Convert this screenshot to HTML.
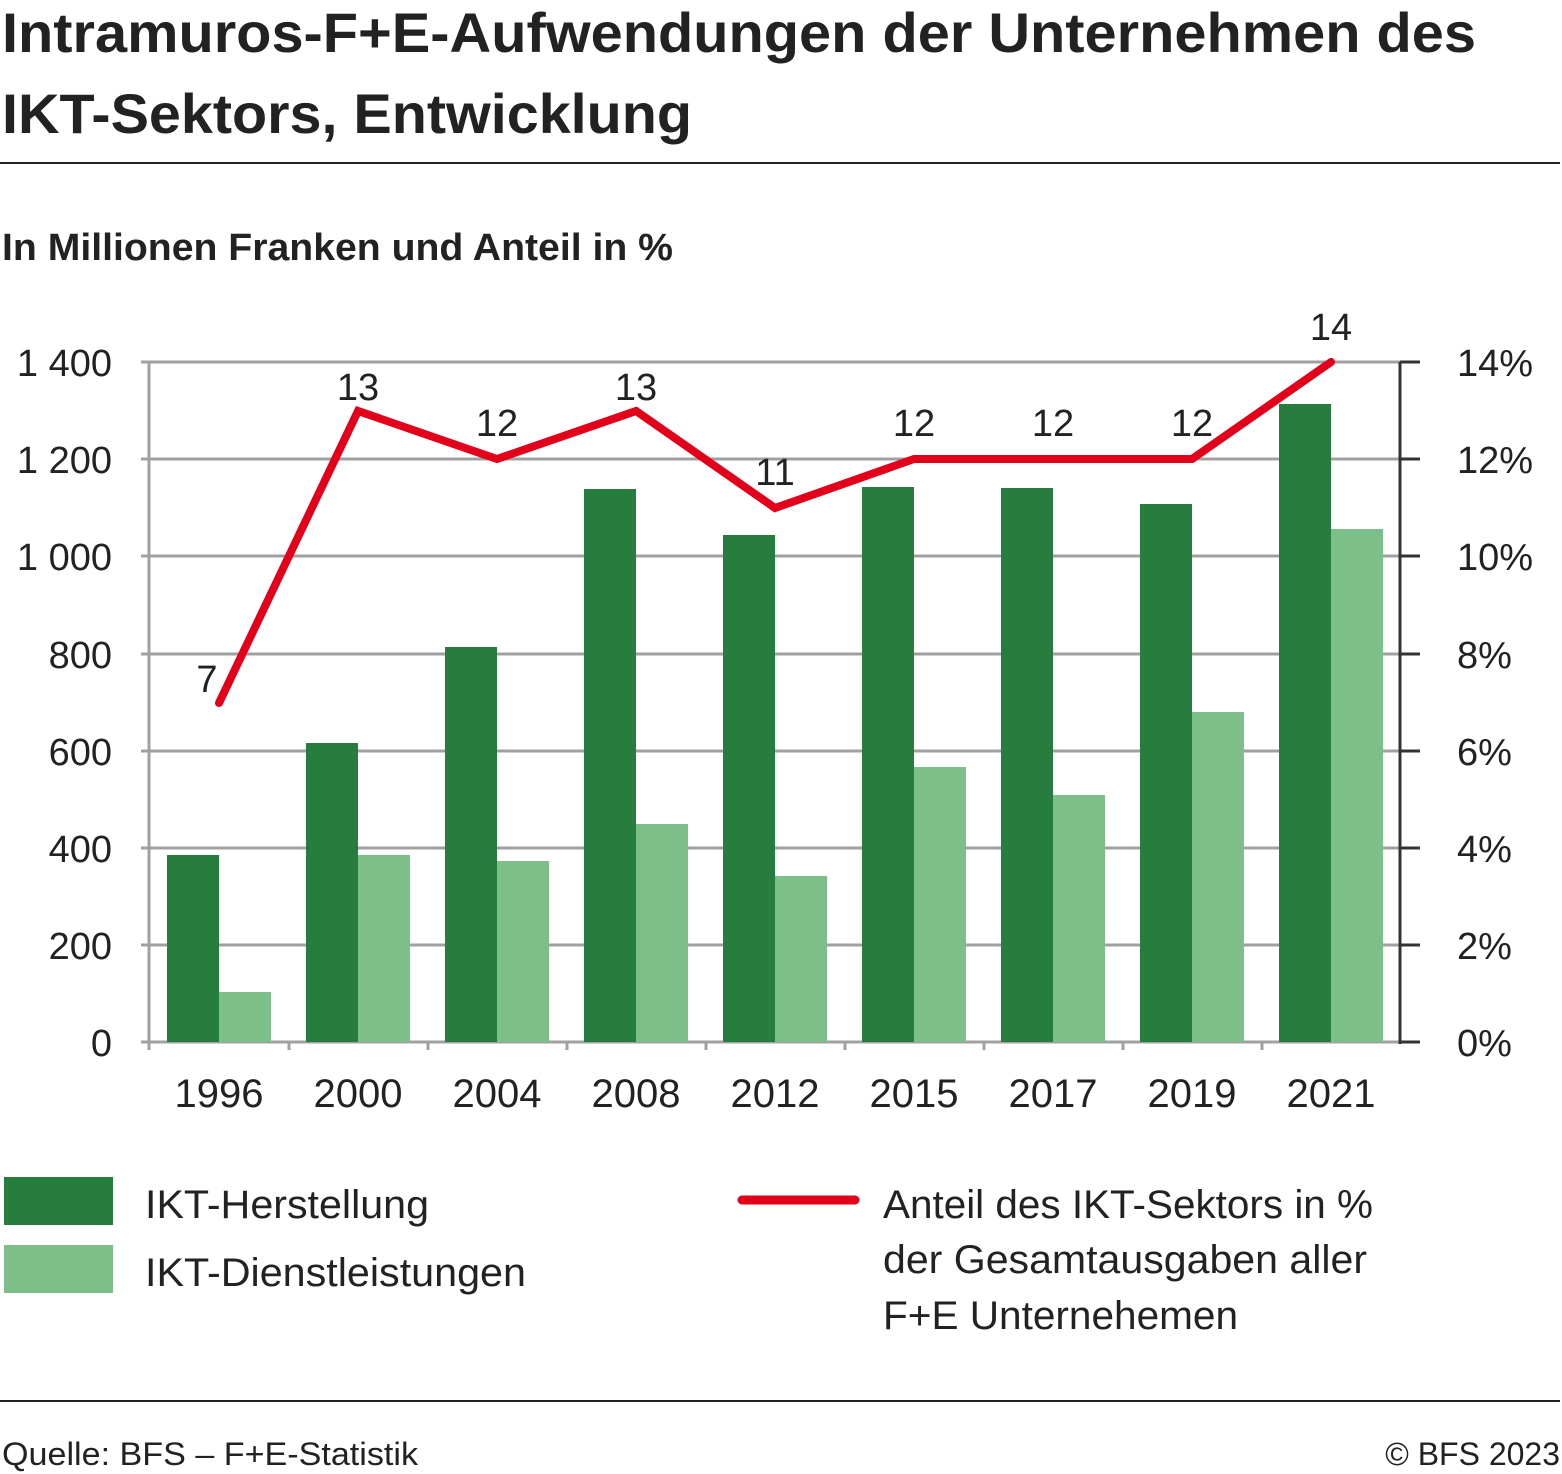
<!DOCTYPE html>
<html><head><meta charset="utf-8"><style>
html,body{margin:0;padding:0;background:#fff;}
svg{display:block;font-family:"Liberation Sans",sans-serif;}
</style></head><body>
<svg width="1562" height="1474" viewBox="0 0 1562 1474" xmlns="http://www.w3.org/2000/svg">
<text x="2" y="52" font-size="56" font-weight="bold" fill="#222" textLength="1474" lengthAdjust="spacingAndGlyphs">Intramuros-F+E-Aufwendungen der Unternehmen des</text>
<text x="2" y="133" font-size="56" font-weight="bold" fill="#222" textLength="690" lengthAdjust="spacingAndGlyphs">IKT-Sektors, Entwicklung</text>
<rect x="0" y="162" width="1560" height="2" fill="#222"/>
<text x="2" y="260" font-size="38" font-weight="bold" fill="#222" textLength="671" lengthAdjust="spacingAndGlyphs">In Millionen Franken und Anteil in %</text>
<g stroke="#a0a0a0" stroke-width="3">
<line x1="141" y1="362" x2="1400" y2="362"/>
<line x1="141" y1="459" x2="1400" y2="459"/>
<line x1="141" y1="556" x2="1400" y2="556"/>
<line x1="141" y1="654" x2="1400" y2="654"/>
<line x1="141" y1="751" x2="1400" y2="751"/>
<line x1="141" y1="848" x2="1400" y2="848"/>
<line x1="141" y1="945" x2="1400" y2="945"/>
<line x1="149" y1="362" x2="149" y2="1050"/>
<line x1="141" y1="1042" x2="1400" y2="1042"/>
<line x1="289" y1="1042" x2="289" y2="1050"/>
<line x1="428" y1="1042" x2="428" y2="1050"/>
<line x1="567" y1="1042" x2="567" y2="1050"/>
<line x1="706" y1="1042" x2="706" y2="1050"/>
<line x1="845" y1="1042" x2="845" y2="1050"/>
<line x1="984" y1="1042" x2="984" y2="1050"/>
<line x1="1123" y1="1042" x2="1123" y2="1050"/>
<line x1="1262" y1="1042" x2="1262" y2="1050"/>
</g>
<g stroke="#333" stroke-width="3">
<line x1="1400" y1="362" x2="1400" y2="1044"/>
<line x1="1400" y1="362" x2="1420" y2="362"/>
<line x1="1400" y1="459" x2="1420" y2="459"/>
<line x1="1400" y1="556" x2="1420" y2="556"/>
<line x1="1400" y1="654" x2="1420" y2="654"/>
<line x1="1400" y1="751" x2="1420" y2="751"/>
<line x1="1400" y1="848" x2="1420" y2="848"/>
<line x1="1400" y1="945" x2="1420" y2="945"/>
<line x1="1400" y1="1042" x2="1420" y2="1042"/>
</g>
<g fill="#267d3e">
<rect x="167" y="855" width="52" height="187"/>
<rect x="306" y="743" width="52" height="299"/>
<rect x="445" y="647" width="52" height="395"/>
<rect x="584" y="489" width="52" height="553"/>
<rect x="723" y="535" width="52" height="507"/>
<rect x="862" y="487" width="52" height="555"/>
<rect x="1001" y="488" width="52" height="554"/>
<rect x="1140" y="504" width="52" height="538"/>
<rect x="1279" y="404" width="52" height="638"/>
</g>
<g fill="#7dbf88">
<rect x="219" y="992" width="52" height="50"/>
<rect x="358" y="855" width="52" height="187"/>
<rect x="497" y="861" width="52" height="181"/>
<rect x="636" y="824" width="52" height="218"/>
<rect x="775" y="876" width="52" height="166"/>
<rect x="914" y="767" width="52" height="275"/>
<rect x="1053" y="795" width="52" height="247"/>
<rect x="1192" y="712" width="52" height="330"/>
<rect x="1331" y="529" width="52" height="513"/>
</g>
<polyline points="219,703 358,411 497,459 636,411 775,508 914,459 1053,459 1192,459 1331,362" fill="none" stroke="#e2001a" stroke-width="8" stroke-linejoin="miter" stroke-linecap="round"/>
<g font-size="38" fill="#222" text-anchor="middle">
<text x="207" y="692">7</text>
<text x="358" y="400">13</text>
<text x="497" y="436">12</text>
<text x="636" y="400">13</text>
<text x="775" y="485">11</text>
<text x="914" y="436">12</text>
<text x="1053" y="436">12</text>
<text x="1192" y="436">12</text>
<text x="1331" y="340">14</text>
</g>
<g font-size="38" fill="#222" text-anchor="end">
<text x="112" y="376">1 400</text>
<text x="112" y="473">1 200</text>
<text x="112" y="570">1 000</text>
<text x="112" y="668">800</text>
<text x="112" y="765">600</text>
<text x="112" y="862">400</text>
<text x="112" y="959">200</text>
<text x="112" y="1056">0</text>
</g>
<g font-size="38" fill="#222">
<text x="1457" y="376">14%</text>
<text x="1457" y="473">12%</text>
<text x="1457" y="570">10%</text>
<text x="1457" y="668">8%</text>
<text x="1457" y="765">6%</text>
<text x="1457" y="862">4%</text>
<text x="1457" y="959">2%</text>
<text x="1457" y="1056">0%</text>
</g>
<g font-size="40" fill="#222" text-anchor="middle">
<text x="219" y="1107">1996</text>
<text x="358" y="1107">2000</text>
<text x="497" y="1107">2004</text>
<text x="636" y="1107">2008</text>
<text x="775" y="1107">2012</text>
<text x="914" y="1107">2015</text>
<text x="1053" y="1107">2017</text>
<text x="1192" y="1107">2019</text>
<text x="1331" y="1107">2021</text>
</g>
<rect x="4" y="1177" width="109" height="48" fill="#267d3e"/>
<rect x="4" y="1245" width="109" height="48" fill="#7dbf88"/>
<line x1="742" y1="1200" x2="855" y2="1200" stroke="#e2001a" stroke-width="9" stroke-linecap="round"/>
<g font-size="40" fill="#222">
<text x="145" y="1218" textLength="284" lengthAdjust="spacingAndGlyphs">IKT-Herstellung</text>
<text x="145" y="1286" textLength="381" lengthAdjust="spacingAndGlyphs">IKT-Dienstleistungen</text>
<text x="883" y="1218" textLength="490" lengthAdjust="spacingAndGlyphs">Anteil des IKT-Sektors in %</text>
<text x="883" y="1273" textLength="484" lengthAdjust="spacingAndGlyphs">der Gesamtausgaben aller</text>
<text x="883" y="1329" textLength="355" lengthAdjust="spacingAndGlyphs">F+E Unternehemen</text>
</g>
<rect x="0" y="1400" width="1560" height="2" fill="#222"/>
<text x="2" y="1465" font-size="32" fill="#222" textLength="416" lengthAdjust="spacingAndGlyphs">Quelle: BFS – F+E-Statistik</text>
<text x="1560" y="1465" font-size="32" fill="#222" text-anchor="end">© BFS 2023</text>
</svg>
</body></html>
